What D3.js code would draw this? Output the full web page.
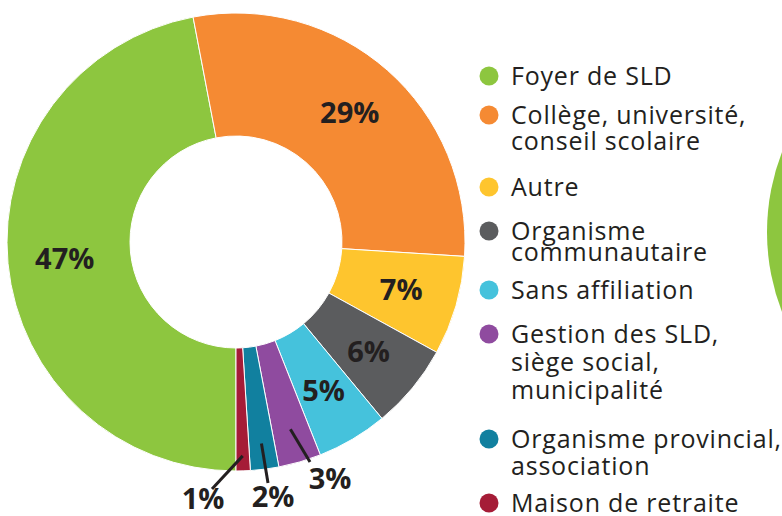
<!DOCTYPE html>
<html>
<head>
<meta charset="utf-8">
<script src="https://cdn.jsdelivr.net/npm/d3@7"></script>
<style>
  body { margin: 0; background: #fff; }
  svg { display: block; }
  .pct { font-family: "Open Sans", sans-serif; font-weight: 700; font-size: 29px; fill: #231f20; }
  .leg { font-family: "Open Sans", sans-serif; font-size: 25px; letter-spacing: 0.8px; fill: #231f20; }
</style>
</head>
<body>
<div id="chart"></div>
<script>
// data, legend order
var categories = ["Foyer de SLD", "Collège, université, conseil scolaire", "Autre",
  "Organisme communautaire", "Sans affiliation", "Gestion des SLD, siège social, municipalité",
  "Organisme provincial, association", "Maison de retraite"];
var values = [47, 29, 7, 6, 5, 3, 2, 1];
var pctLabels = ["47%", "29%", "7%", "6%", "5%", "3%", "2%", "1%"];
var legendLines = [
  ["Foyer de SLD"],
  ["Collège, université,", "conseil scolaire"],
  ["Autre"],
  ["Organisme", "communautaire"],
  ["Sans affiliation"],
  ["Gestion des SLD,", "siège social,", "municipalité"],
  ["Organisme provincial,", "association"],
  ["Maison de retraite"]
];
var colors = ["#8dc63f", "#f58a33", "#fec52e", "#5b5c5e", "#45c2dc", "#8f4b9f", "#11809f", "#a51c37"];

// layout
var width = 782, height = 516;
var cx = 236, cy = 242, outerR = 229, innerR = 106, labelR = 172;
var outside = [false, false, false, false, false, true, true, true];
var legendFirstY = [85, 124, 196, 240, 299, 343, 448, 512];
var legendGap = [0, 26, 0, 21, 0, 28, 27, 0];

var svg = d3.select("#chart").append("svg")
  .attr("width", width)
  .attr("height", height);

// piece of the next chart, cut off at right edge
svg.append("path")
  .attr("transform", "translate(988,232)")
  .attr("d", d3.arc()({innerRadius: 0, outerRadius: 221, startAngle: 0, endAngle: 2 * Math.PI}))
  .attr("fill", colors[0]);

var pie = d3.pie().sort(null).value(function(d) { return d; })
  .startAngle(Math.PI).endAngle(3 * Math.PI);
var arcs = pie(values);

var arc = d3.arc().innerRadius(innerR).outerRadius(outerR);
var labelArc = d3.arc().innerRadius(labelR).outerRadius(labelR);

var g = svg.append("g").attr("transform", "translate(" + cx + "," + cy + ")");

g.selectAll("path.slice")
  .data(arcs)
  .enter().append("path")
    .attr("class", "slice")
    .attr("d", arc)
    .attr("fill", function(d, i) { return colors[i]; })
    .attr("stroke", "#fff")
    .attr("stroke-width", 1);

// inside labels
g.selectAll("text.in")
  .data(arcs.filter(function(d, i) { return !outside[i]; }))
  .enter().append("text")
    .attr("class", "pct")
    .attr("text-anchor", "middle")
    .attr("dy", "0.36em")
    .attr("transform", function(d) { return "translate(" + labelArc.centroid(d) + ")"; })
    .text(function(d) { return pctLabels[d.index]; });

// outside labels with leader lines
function polar(a, r) { return [Math.sin(a) * r, -Math.cos(a) * r]; }
var leaders = [
  {i: 5, r0: 195, end: [74, 220], text: [94, 247]},
  {i: 6, r0: 203, end: [32, 241], text: [37, 265]},
  {i: 7, r0: 214, end: [-24, 247], text: [-33, 267]}
];
leaders.forEach(function(l) {
  var a = arcs[l.i];
  var mid = (a.startAngle + a.endAngle) / 2;
  var p0 = polar(mid, l.r0);
  g.append("line")
    .attr("x1", p0[0]).attr("y1", p0[1])
    .attr("x2", l.end[0]).attr("y2", l.end[1])
    .attr("stroke", "#231f20")
    .attr("stroke-width", 3);
  g.append("text")
    .attr("class", "pct")
    .attr("text-anchor", "middle")
    .attr("x", l.text[0]).attr("y", l.text[1])
    .text(pctLabels[l.i]);
});

// legend
var legend = svg.append("g").attr("transform", "translate(489,0)");
categories.forEach(function(c, i) {
  var y0 = legendFirstY[i];
  legend.append("circle")
    .attr("cx", 0).attr("cy", y0 - 9)
    .attr("r", 9.5)
    .attr("fill", colors[i]);
  var t = legend.append("text").attr("class", "leg").attr("x", 22).attr("y", y0);
  legendLines[i].forEach(function(line, j) {
    t.append("tspan").attr("x", 22).attr("y", y0 + j * legendGap[i]).text(line);
  });
});
</script>
</body>
</html>
